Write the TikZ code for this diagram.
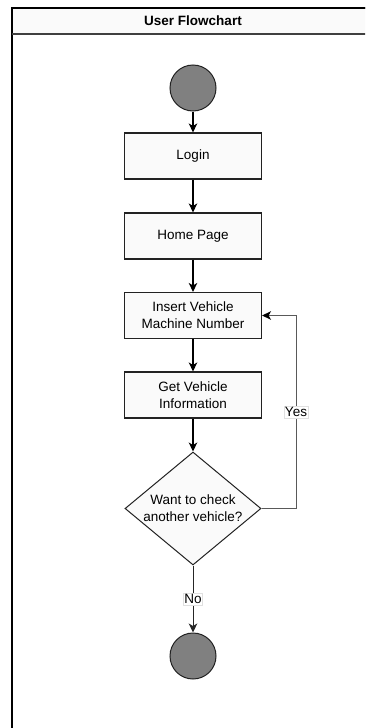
\documentclass[tikz,border=0pt]{standalone}
\usepackage{fontspec}
\setmainfont{Liberation Sans}
\usetikzlibrary{arrows.meta,shapes.geometric}
\definecolor{dotfill}{HTML}{808080}
\definecolor{edgecol}{HTML}{222222}
\begin{document}
\begin{tikzpicture}[x=1pt,y=-1pt,
  every node/.style={font=\fontsize{13.5}{17.3}\selectfont},
  stepbox/.style={draw=edgecol,line width=1.1pt,fill=white!98!black,
    minimum width=137pt,minimum height=46pt,inner sep=0pt,align=center},
  dot/.style={circle,draw=edgecol,line width=1pt,fill=dotfill,
    minimum size=46pt,inner sep=0pt},
  decide/.style={diamond,draw=edgecol,line width=1pt,fill=white!98!black,
    minimum width=136pt,minimum height=113pt,inner sep=0pt},
  flow/.style={draw=black,line width=1.1pt,
    -{Stealth[length=9pt,width=8.5pt,inset=2.5pt]}},
  back/.style={draw=black!65,line width=1pt,
    -{Stealth[length=9pt,width=8.5pt,inset=2.5pt,color=black]}},
  lbl/.style={fill=white,draw=black!12,line width=0.4pt,inner sep=1pt}
]
\clip (0,0) rectangle (365,728);
\fill[white] (0,0) rectangle (365,728);

% outer frame with title band
\draw[line width=1.4pt,draw=black] (12,8) rectangle (375,745);
\fill[white!98!black] (12.7,8.7) rectangle (374,34);
\draw[line width=1.4pt,draw=black!75] (12,34) -- (375,34);
\draw[line width=1.8pt,draw=black] (12,8) -- (375,8);
\node[font=\fontsize{13.5}{16}\selectfont\bfseries] (title) at (193,21) {User Flowchart};

% nodes
\node[dot] (start) at (193,88) {};
\node[stepbox] (login) at (193,156) {Login};
\node[stepbox] (home) at (193,236) {Home Page};
\node[stepbox] (insert) at (193,315.5) {Insert Vehicle\\Machine Number};
\node[stepbox] (get) at (193,395) {Get Vehicle\\Information};
\node[decide,label={[align=center,font=\fontsize{13.5}{17.3}\selectfont]center:Want to check\\another vehicle?}] (dec) at (193,508.5) {};
\node[dot] (finish) at (193,656) {};
\coordinate (loopc) at (296,315.5);

% connectors
\draw[flow] (start) -- (login);
\draw[flow] (login) -- (home);
\draw[flow] (home) -- (insert);
\draw[flow] (insert) -- (get);
\draw[flow] (get) -- (dec);
\draw[back] (dec.east) -| node[pos=0.75,lbl] {Yes} (loopc) -- (insert.east);
\draw[flow,draw=black!85,line width=1pt] (dec.south) -- node[lbl] {No} (finish);
\end{tikzpicture}
\end{document}
